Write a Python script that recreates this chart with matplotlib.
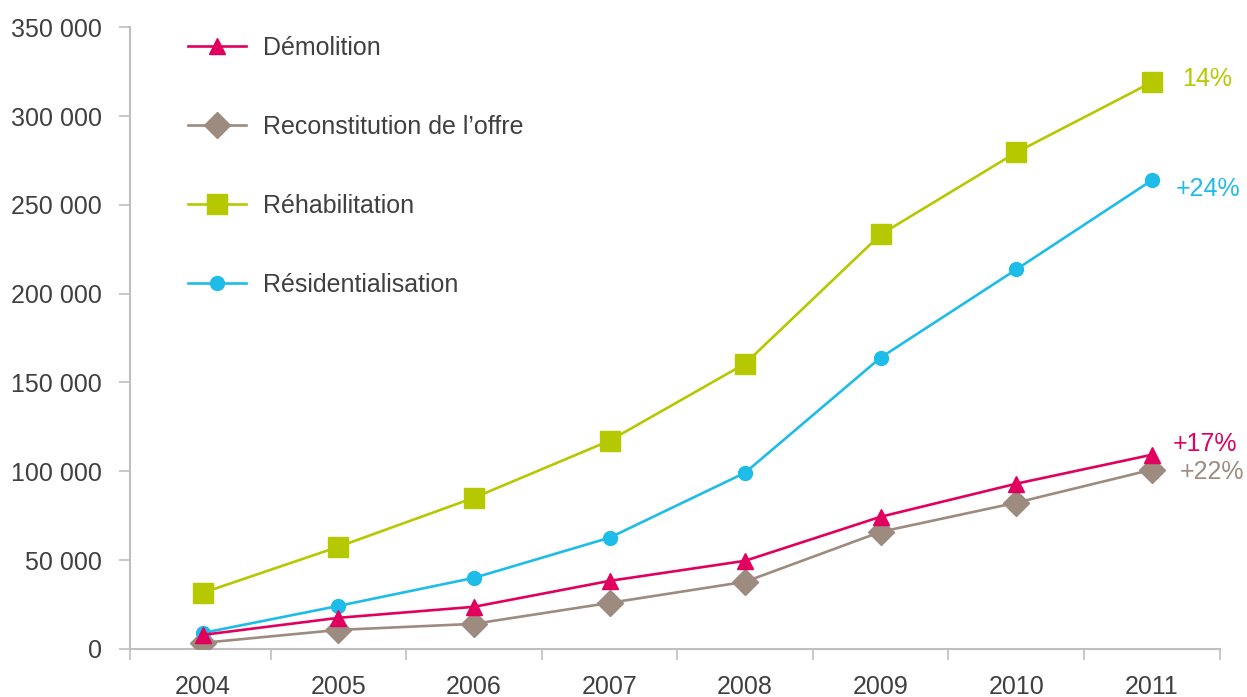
# -*- coding: utf-8 -*-
import matplotlib.pyplot as plt
import numpy as np

plt.rcParams['font.family'] = ['Liberation Sans', 'DejaVu Sans']

# données
annees = ['2004', '2005', '2006', '2007', '2008', '2009', '2010', '2011']
demolition = [7900, 17500, 23700, 38300, 49600, 74400, 93000, 109300]
reconstitution = [3400, 10700, 14100, 25900, 37800, 65900, 82300, 100900]
rehabilitation = [31600, 57500, 85100, 117200, 160600, 233300, 279500, 319000]
residentialisation = [9000, 24200, 40000, 62600, 99200, 164000, 213600, 263800]
noms = ['Démolition', 'Reconstitution de l\u2019offre', 'Réhabilitation', 'Résidentialisation']
evolutions = ['+17%', '+22%', '14%', '+24%']
yticks = [0, 50000, 100000, 150000, 200000, 250000, 300000, 350000]

c_rouge = '#E2005E'
c_brun = '#9C8B7E'
c_vert = '#B5C800'
c_bleu = '#1EBCE8'
gris_txt = '#404040'
gris_axe = '#BFBFBF'

fig = plt.figure(figsize=(12.47, 6.97), dpi=100, facecolor='w')
ax = fig.add_axes([0.104, 0.069, 0.874, 0.892])

x = np.arange(len(annees))
l1, = ax.plot(x, demolition, color=c_rouge, lw=1.9, marker='^', ms=12, zorder=4)
l2, = ax.plot(x, reconstitution, color=c_brun, lw=1.9, marker='D', ms=13, zorder=3)
l3, = ax.plot(x, rehabilitation, color=c_vert, lw=1.9, marker='s', ms=15, zorder=3)
l4, = ax.plot(x, residentialisation, color=c_bleu, lw=1.9, marker='o', ms=10, zorder=3)

# étiquettes à droite
series = [demolition, reconstitution, rehabilitation, residentialisation]
couleurs = [c_rouge, c_brun, c_vert, c_bleu]
decalages = [(15, 8), (20, -2), (22, 2), (17, -6)]
for s, txt, c, d in zip(series, evolutions, couleurs, decalages):
    ax.annotate(txt, (x[-1], s[-1]), xytext=d, textcoords='offset points',
                color=c, fontsize=18, va='center', ha='left')

gauche = -0.54
ax.set_xlim(gauche, len(annees) - 0.5)
ax.set_ylim(0, 350000)

ax.set_xticks(x)
ax.set_xticklabels(annees)
ax.set_xticks([gauche] + list(np.arange(0.5, len(annees))), minor=True)
ax.tick_params(axis='x', which='major', length=0, pad=19, labelsize=18, labelcolor=gris_txt)
ax.tick_params(axis='x', which='minor', length=8, color=gris_axe, width=1.2)

ax.set_yticks(yticks)
ax.set_yticklabels(['{:,}'.format(v).replace(',', ' ') for v in yticks])
ax.tick_params(axis='y', length=8, color=gris_axe, width=1.2, pad=12,
               labelsize=18, labelcolor=gris_txt)

for sp in ['top', 'right']:
    ax.spines[sp].set_visible(False)
for sp in ['left', 'bottom']:
    ax.spines[sp].set_color(gris_axe)
    ax.spines[sp].set_linewidth(1.5)

ax.legend([l1, l2, l3, l4], noms, loc='upper left', bbox_to_anchor=(0.033, 1.022),
          frameon=False, fontsize=18, labelspacing=2.2, handlelength=2.3,
          handletextpad=0.7, labelcolor=gris_txt)

plt.savefig('out.png', dpi=100)
